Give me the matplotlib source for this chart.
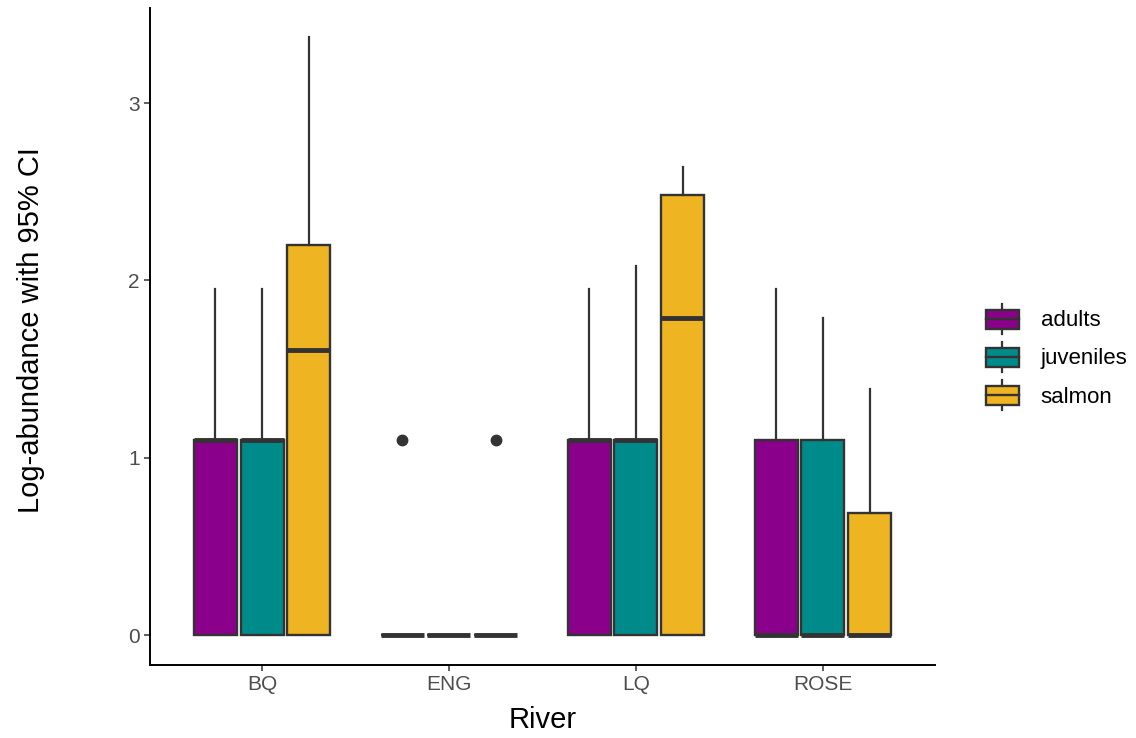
import numpy as np
import matplotlib.pyplot as plt
from matplotlib.legend_handler import HandlerBase
from matplotlib.patches import Rectangle
from matplotlib.lines import Line2D

plt.rcParams['font.family'] = ['Liberation Sans', 'DejaVu Sans']

rivers = ['BQ', 'ENG', 'LQ', 'ROSE']
groups = ['adults', 'juveniles', 'salmon']
colors = ['#8B008B', '#008B8B', '#EEB422']

# box stats per river (log scale)
adults_q1 = [0.0, 0.0, 0.0, 0.0]
adults_med = [1.10, 0.0, 1.10, 0.0]
adults_q3 = [1.10, 0.0, 1.10, 1.10]
adults_lo = [0.0, 0.0, 0.0, 0.0]
adults_hi = [1.95, 0.0, 1.95, 1.95]
adults_out = [[], [1.10], [], []]

juveniles_q1 = [0.0, 0.0, 0.0, 0.0]
juveniles_med = [1.10, 0.0, 1.10, 0.0]
juveniles_q3 = [1.10, 0.0, 1.10, 1.10]
juveniles_lo = [0.0, 0.0, 0.0, 0.0]
juveniles_hi = [1.95, 0.0, 2.08, 1.79]
juveniles_out = [[], [], [], []]

salmon_q1 = [0.0, 0.0, 0.0, 0.0]
salmon_med = [1.61, 0.0, 1.79, 0.0]
salmon_q3 = [2.20, 0.0, 2.48, 0.69]
salmon_lo = [0.0, 0.0, 0.0, 0.0]
salmon_hi = [3.37, 0.0, 2.64, 1.39]
salmon_out = [[], [1.10], [], []]

series = [
    (adults_q1, adults_med, adults_q3, adults_lo, adults_hi, adults_out),
    (juveniles_q1, juveniles_med, juveniles_q3, juveniles_lo, juveniles_hi, juveniles_out),
    (salmon_q1, salmon_med, salmon_q3, salmon_lo, salmon_hi, salmon_out),
]

edge = '#333333'

fig = plt.figure(figsize=(11.36, 7.38), dpi=100)
ax = fig.add_axes([0.132, 0.099, 0.691, 0.89])

x = np.arange(1, len(rivers) + 1)
offsets = [-0.25, 0.0, 0.25]

for g, (q1, med, q3, lo, hi, out) in enumerate(series):
    stats = []
    for i in range(len(rivers)):
        stats.append(dict(q1=q1[i], med=med[i], q3=q3[i], whislo=lo[i],
                          whishi=hi[i], fliers=out[i]))
    ax.bxp(stats, positions=x + offsets[g], widths=0.23, patch_artist=True,
           showcaps=False, manage_ticks=False,
           boxprops=dict(facecolor=colors[g], edgecolor=edge, linewidth=1.7),
           medianprops=dict(color=edge, linewidth=3.5, solid_capstyle='butt'),
           whiskerprops=dict(color=edge, linewidth=1.6),
           flierprops=dict(marker='o', markerfacecolor=edge, markeredgecolor=edge,
                           markersize=7.5))

ax.set_xlim(0.4, 4.6)
ax.set_ylim(-0.168, 3.535)
ax.set_xticks(x)
ax.set_xticklabels(rivers)
ax.set_yticks([0, 1, 2, 3])
ax.tick_params(axis='both', labelsize=15, labelcolor='#4D4D4D', color='#333333',
               length=4, width=1.1)
for s in ['top', 'right']:
    ax.spines[s].set_visible(False)
for s in ['left', 'bottom']:
    ax.spines[s].set_linewidth(1.4)
    ax.spines[s].set_color('black')

ax.set_xlabel('River', fontsize=21)
ax.set_ylabel('Log-abundance with 95% CI', fontsize=21)
ax.xaxis.set_label_coords(0.5, -0.062)
ax.yaxis.set_label_coords(-0.134, 0.51)


class BoxKey(HandlerBase):
    def __init__(self, color):
        super().__init__()
        self.color = color

    def create_artists(self, legend, orig_handle, xdescent, ydescent, width, height,
                       fontsize, trans):
        x0 = -xdescent
        y0 = -ydescent
        bh = height * 0.63
        by = y0 + (height - bh) / 2
        rect = Rectangle((x0, by), width, bh, facecolor=self.color, edgecolor=edge,
                         linewidth=1.7, transform=trans)
        cx = x0 + width / 2
        mid = y0 + height / 2
        w1 = Line2D([cx, cx], [y0, by], color=edge, linewidth=1.6, transform=trans)
        w2 = Line2D([cx, cx], [by + bh, y0 + height], color=edge, linewidth=1.6,
                    transform=trans)
        m = Line2D([x0, x0 + width], [mid, mid], color=edge, linewidth=1.7,
                   transform=trans)
        return [w1, w2, rect, m]


handles = [Rectangle((0, 0), 1, 1, facecolor=c) for c in colors]
fig.legend(handles, groups, loc='center left', bbox_to_anchor=(0.850, 0.516),
           frameon=False, fontsize=16, handlelength=1.49, handleheight=1.71,
           labelspacing=0.36, handletextpad=0.99,
           handler_map={h: BoxKey(c) for h, c in zip(handles, colors)})

fig.savefig('out.png', dpi=100)
